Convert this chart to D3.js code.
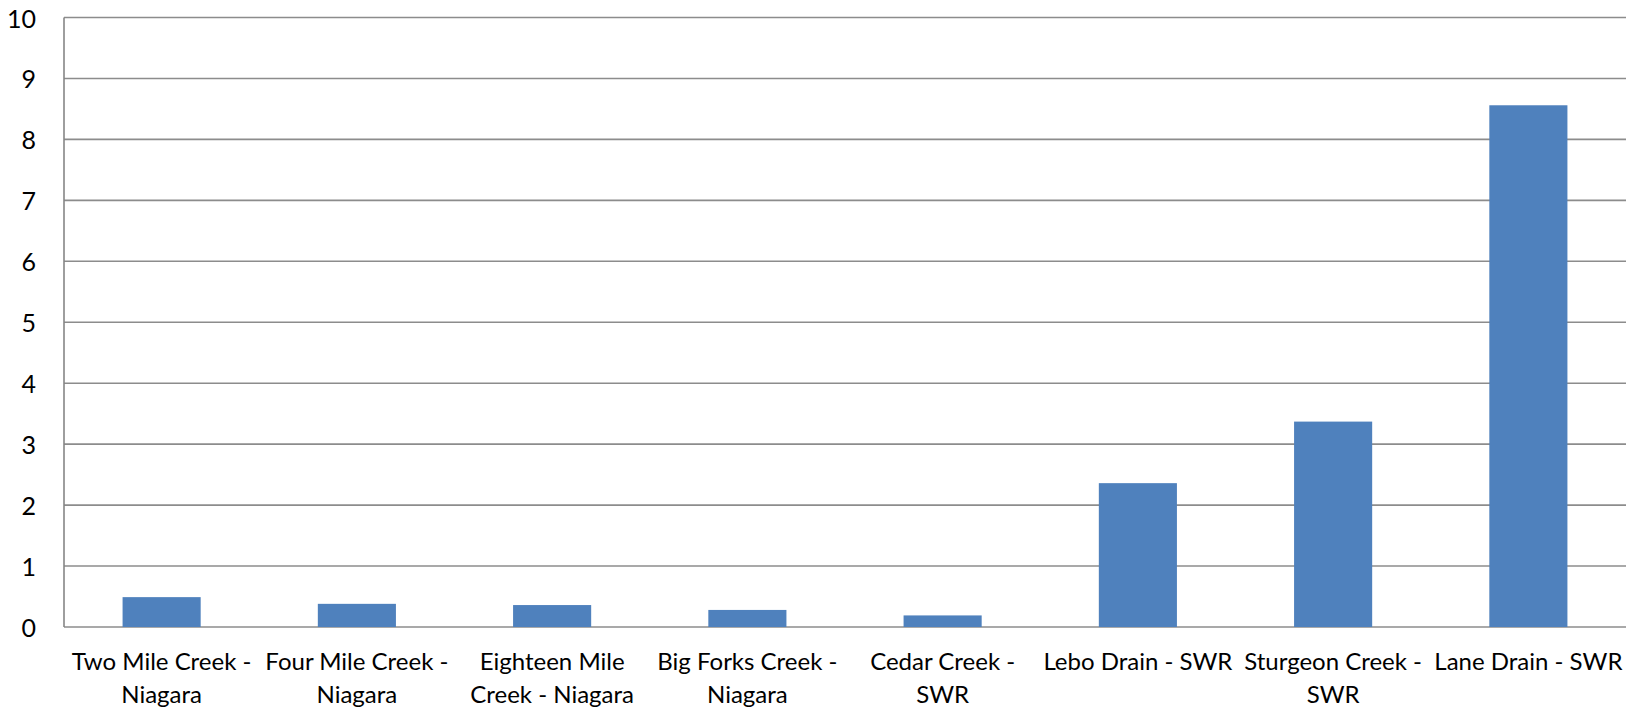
<!DOCTYPE html>
<html>
<head>
<meta charset="utf-8">
<script src="https://cdn.jsdelivr.net/npm/d3@7"></script>
<style>
  html, body { margin: 0; padding: 0; background: #fff; }
  svg { display: block; }
  text { font-family: Lato, "Liberation Sans", Arial, sans-serif; fill: #000; }
</style>
</head>
<body>
<svg id="chart" width="1628" height="709"></svg>
<script>
const categories = [
  "Two Mile Creek - Niagara",
  "Four Mile Creek - Niagara",
  "Eighteen Mile Creek - Niagara",
  "Big Forks Creek - Niagara",
  "Cedar Creek - SWR",
  "Lebo Drain - SWR",
  "Sturgeon Creek - SWR",
  "Lane Drain - SWR"
];
const labelLines = [
  ["Two Mile Creek -", "Niagara"],
  ["Four Mile Creek -", "Niagara"],
  ["Eighteen Mile", "Creek - Niagara"],
  ["Big Forks Creek -", "Niagara"],
  ["Cedar Creek -", "SWR"],
  ["Lebo Drain - SWR"],
  ["Sturgeon Creek -", "SWR"],
  ["Lane Drain - SWR"]
];
const values = [0.49, 0.38, 0.36, 0.28, 0.19, 2.36, 3.37, 8.56];
const yTicks = [0, 1, 2, 3, 4, 5, 6, 7, 8, 9, 10];

(function () {
const svg = d3.select("#chart");
const mLeft = 64, mRight = 1626, mTop = 17.5, mBottom = 627;

const x = d3.scaleBand().domain(categories).range([mLeft, mRight]).padding(0);
const y = d3.scaleLinear().domain([0, 10]).range([mBottom, mTop]);

svg.append("g").selectAll("line").data(yTicks).join("line")
  .attr("x1", mLeft).attr("x2", mRight)
  .attr("y1", d => y(d)).attr("y2", d => y(d))
  .attr("stroke", "#8c8c8c").attr("stroke-width", 1.6);

const barW = x.bandwidth() * 0.4;
svg.append("g").selectAll("rect").data(values).join("rect")
  .attr("x", (d, i) => x(categories[i]) + (x.bandwidth() - barW) / 2)
  .attr("width", barW)
  .attr("y", d => y(d))
  .attr("height", d => y(0) - y(d))
  .attr("fill", "#4f81bd");

svg.append("line")
  .attr("x1", mLeft).attr("x2", mLeft)
  .attr("y1", mTop).attr("y2", mBottom)
  .attr("stroke", "#868686").attr("stroke-width", 1.6);

svg.append("g").selectAll("text").data(yTicks).join("text")
  .attr("x", 36).attr("y", d => y(d))
  .attr("text-anchor", "end").attr("dominant-baseline", "central")
  .attr("font-size", 25)
  .text(d => d);

const lg = svg.append("g").selectAll("text").data(categories).join("text")
  .attr("text-anchor", "middle")
  .attr("font-size", 24)
  .attr("transform", d => `translate(${x(d) + x.bandwidth() / 2},0)`);
lg.each(function (d, i) {
  d3.select(this).selectAll("tspan").data(labelLines[i]).join("tspan")
    .attr("x", 0)
    .attr("y", (t, j) => 670 + j * 33)
    .text(t => t);
});
})();
</script>
</body>
</html>
